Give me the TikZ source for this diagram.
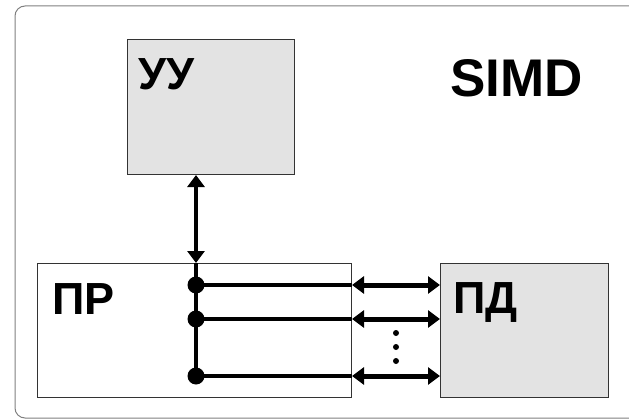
\documentclass[tikz,border=0pt]{standalone}
\usepackage{fontspec}
\setmainfont{Liberation Sans}
\usetikzlibrary{arrows.meta,positioning,calc}

\tikzset{
  unitbox/.style={draw=black!80, line width=1pt, inner sep=0pt, anchor=north west},
  graybox/.style={unitbox, fill=black!11},
  title/.style={font=\bfseries\fontsize{45}{45}\selectfont, inner sep=0pt, anchor=base west},
  busdot/.style={circle, fill, inner sep=0pt, minimum size=17pt},
  bus/.style={line width=3.5pt},
  link/.style={line width=5pt, {Triangle[length=12pt,width=17pt]}-{Triangle[length=12pt,width=17pt]}},
  vdot/.style={circle, fill, inner sep=0pt, minimum size=6pt}
}

\begin{document}
\begin{tikzpicture}[x=1pt, y=-1pt]
    \useasboundingbox (0,0) rectangle (629,420);
    % outer frame
    \draw [black!50, line width=1pt, rounded corners=10pt] (15,6) rectangle (660,418);

    % blocks
    \node [graybox, minimum width=167pt, minimum height=135pt] (uu) at (127,39) {};
    \node [unitbox, fill=white, minimum width=314pt, minimum height=134pt] (pr) at (37,263) {};
    \node [graybox, minimum width=168pt, minimum height=134pt] (pd) at (440,263) {};

    % labels
    \node [title] (uutext) at (138,89) {УУ};
    \node [title] (prtext) at (52,314) {ПР};
    \node [title] (pdtext) at (453,313) {ПД};
    \node [title, font=\bfseries\fontsize{53}{53}\selectfont] (simd) at (450,96) {SIMD};

    % bus
    \node [busdot] (d1) at (196,285) {};
    \node [busdot] (d2) at (196,319) {};
    \node [busdot] (d3) at (196,376) {};
    \draw [link, line width=4pt] (uu.south -| d1) -- (pr.north -| d1);
    \draw [bus] (pr.north -| d1) -- (d3.center);
    \foreach \d in {d1,d2,d3} {
        \draw [bus] (\d.center) -- (\d -| pr.east);
        \draw [link] (\d -| pr.east) -- (\d -| pd.west);
    }

    % vertical ellipsis
    \foreach \y in {333,347,361}
        \node [vdot] (v\y) at (396,\y) {};
\end{tikzpicture}
\end{document}
